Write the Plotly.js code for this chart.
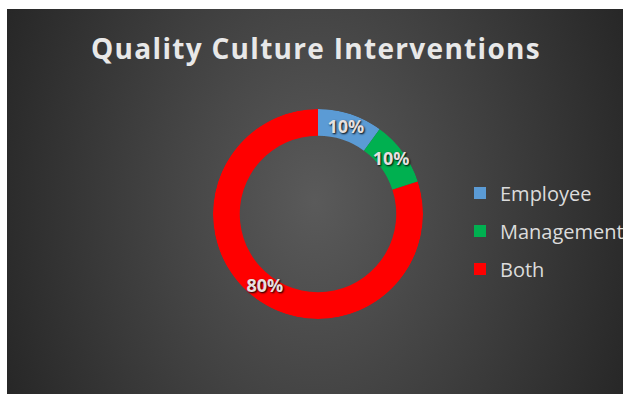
<!DOCTYPE html>
<html>
<head>
<meta charset="utf-8">
<script src="https://cdn.plot.ly/plotly-3.0.1.min.js"></script>
<style>
  html, body { margin: 0; padding: 0; background: #ffffff; }
  #wrap { position: relative; width: 623px; height: 394px; overflow: hidden; background: #ffffff; }
  #bg { position: absolute; left: 7px; top: 9px; width: 616px; height: 385px;
        background: radial-gradient(ellipse 55% 120% at 50% 50%, #5a5a5a 0%, #272727 100%); }
  #chart { position: absolute; left: 0; top: 0; width: 623px; height: 394px; }
  #chart .gtitle { letter-spacing: 1.3px; }
</style>
</head>
<body>
<div id="wrap">
  <div id="bg"></div>
  <div id="chart"></div>
</div>
<script>
const chartTitle = "Quality Culture Interventions";
const categories = ["Employee", "Management", "Both"];
const values = [10, 10, 80];
const colors = ["#5B9BD5", "#00B050", "#FF0000"];

const holeFraction = 0.745;
const total = values.reduce((a, b) => a + b, 0);

// angular position of each slice (clockwise from 12 o'clock), derived from the values
const starts = [];
let acc = 0;
values.forEach(v => { starts.push(acc); acc += v; });
const mids = values.map((v, i) => (starts[i] + v / 2) / total * 360);
const widths = values.map(v => v / total * 360);
const pctText = values.map(v => Math.round(v / total * 100) + "%");

// one ring segment per category (gives a legend entry each)
const ringTraces = categories.map((c, i) => ({
  type: "barpolar",
  subplot: "polar",
  name: c,
  legendgroup: c,
  r: [1 - holeFraction],
  base: [holeFraction],
  theta: [mids[i]],
  width: [widths[i]],
  marker: { color: colors[i], line: { width: 0 } },
  hoverinfo: "name"
}));

const labelTrace = {
  type: "scatterpolar",
  subplot: "polar",
  mode: "text",
  r: values.map(() => 0.86),
  theta: mids,
  text: pctText,
  textposition: "middle center",
  textfont: { family: "Open Sans", size: 18, weight: 700, color: "#e6e0e0", shadow: "1px 1px 2px #000000" },
  showlegend: false,
  hoverinfo: "skip"
};

const layout = {
  width: 623,
  height: 394,
  margin: { l: 0, r: 0, t: 0, b: 0, autoexpand: false },
  paper_bgcolor: "rgba(0,0,0,0)",
  plot_bgcolor: "rgba(0,0,0,0)",
  title: {
    text: chartTitle,
    x: 316 / 623, xanchor: "center",
    y: 1 - 49 / 394, yanchor: "middle",
    font: { family: "Open Sans", size: 28, weight: 700, color: "#e8e8e8" }
  },
  polar: {
    domain: { x: [(318 - 105) / 623, (318 + 105) / 623], y: [1 - 319 / 394, 1 - 109 / 394] },
    bgcolor: "rgba(0,0,0,0)",
    barmode: "overlay",
    hole: 0,
    radialaxis: { visible: false, range: [0, 1], showgrid: false, showline: false, showticklabels: false, ticks: "" },
    angularaxis: { visible: false, rotation: 90, direction: "clockwise", showgrid: false, showline: false, showticklabels: false, ticks: "" }
  },
  showlegend: true,
  legend: {
    x: 460 / 623, xanchor: "left",
    y: 1 - 231 / 394, yanchor: "middle",
    traceorder: "grouped",
    tracegroupgap: 9,
    bgcolor: "rgba(0,0,0,0)",
    font: { family: "Open Sans", size: 20, weight: 500, color: "#dcdcdc" }
  }
};

Plotly.newPlot("chart", ringTraces.concat([labelTrace]), layout, { displayModeBar: false, staticPlot: true });
</script>
</body>
</html>
